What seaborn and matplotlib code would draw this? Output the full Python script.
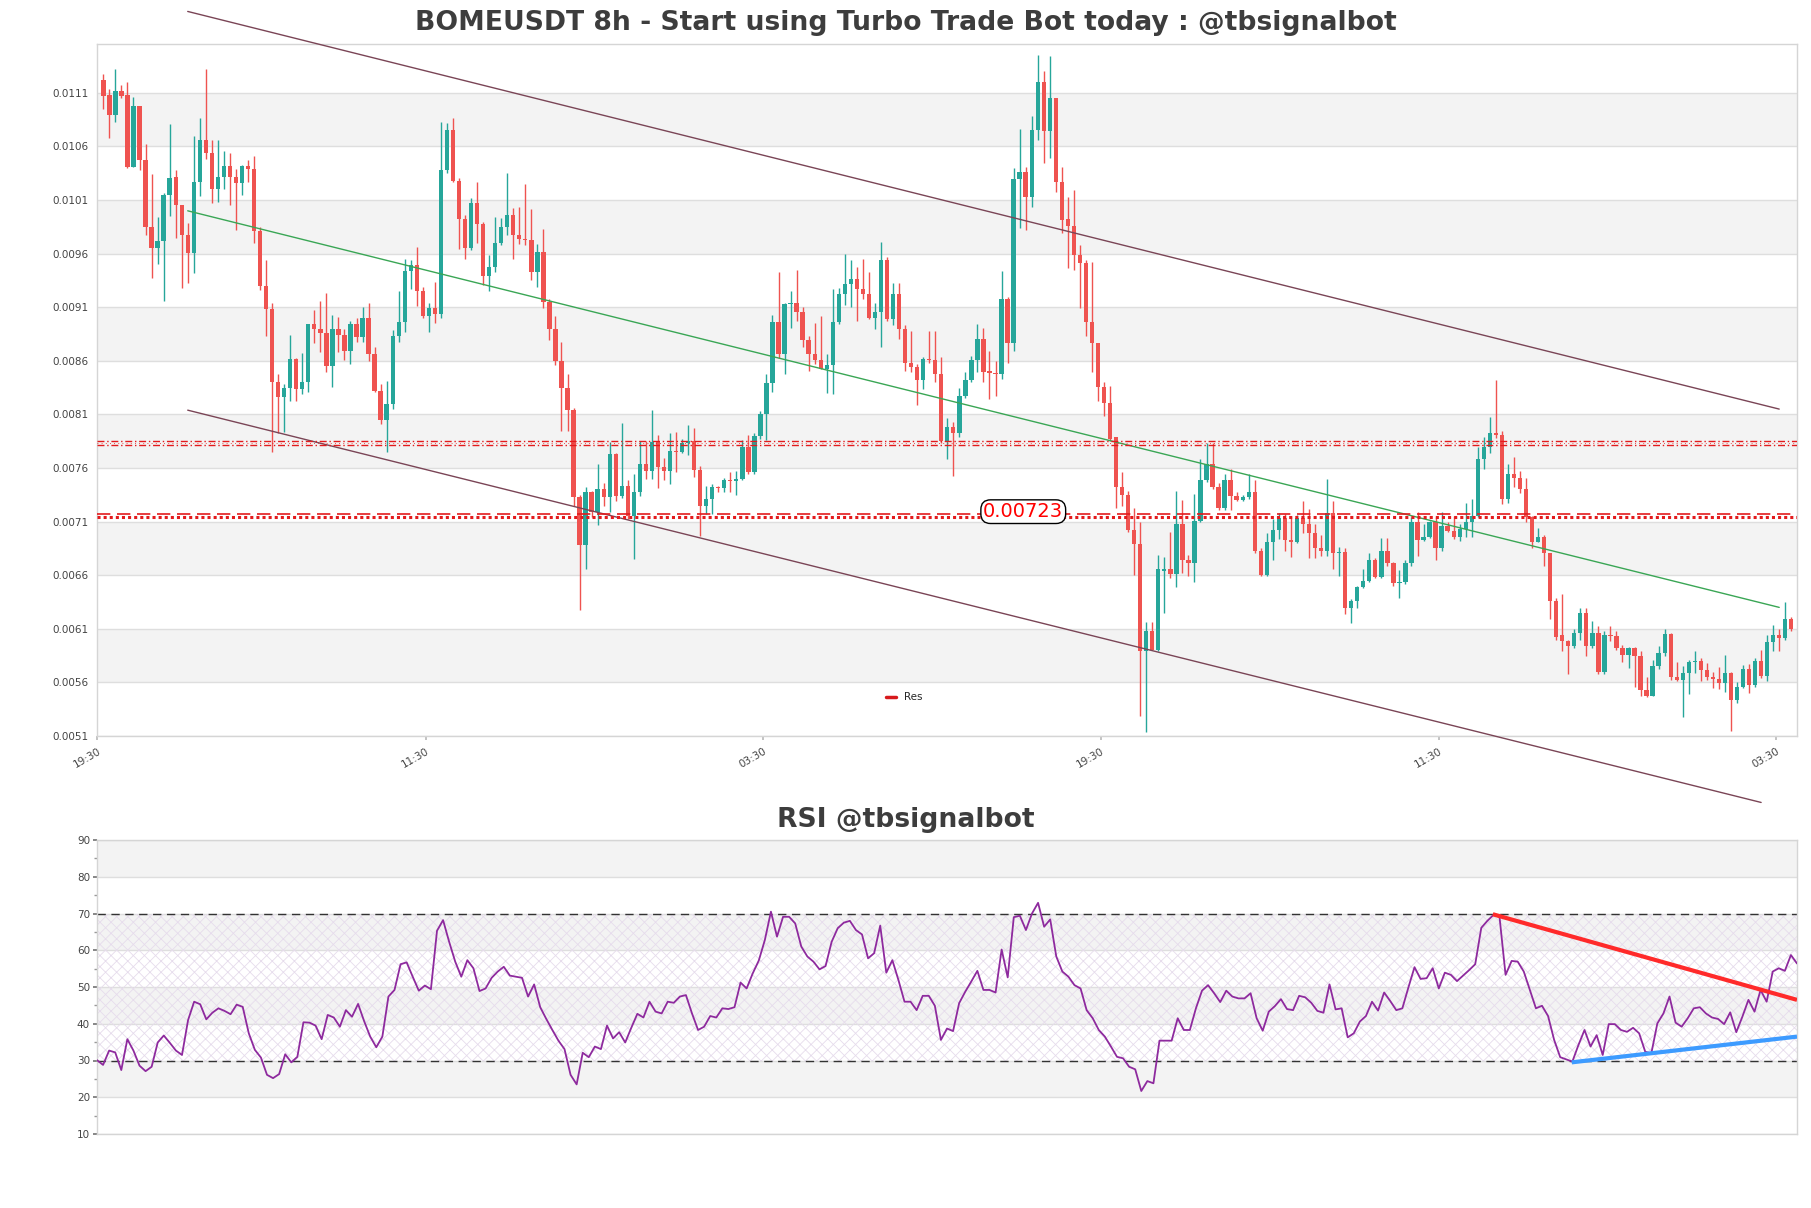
import numpy as np
import pandas as pd
import matplotlib
matplotlib.use("Agg")
import matplotlib.pyplot as plt
import seaborn as sns
from matplotlib.lines import Line2D

sns.set_theme(style="white")
plt.rcParams["font.family"] = ["DejaVu Sans"]
plt.rcParams["hatch.linewidth"] = 0.6

# ---------------- data (prices in units of 1e-4) ----------------
PRICE_UNIT = 1e-4
opens = [112.25,110.8,108.9,111.2,110.8,104.1,109.75,104.7,98.5,96.5,97.2,101.5,103.2,100.5,97.7,96.1,102.7,106.6,105.4,102.0,
         103.2,104.2,103.2,102.6,104.2,103.9,98.1,93.0,90.8,84.0,82.6,83.5,86.2,83.4,84.0,89.4,89.0,88.6,85.5,89.0,
         88.4,86.9,89.4,88.2,90.0,86.6,83.2,80.5,82.0,88.3,89.6,94.4,94.9,92.5,90.2,90.9,90.4,103.8,107.5,102.75,
         99.2,96.5,100.7,98.8,93.9,94.8,97.0,98.5,99.6,97.75,97.4,97.3,94.3,96.2,91.5,89.0,86.0,83.5,81.4,73.3,
         68.8,73.8,71.9,74.0,73.3,77.3,73.4,74.3,71.5,73.8,76.4,75.7,78.4,76.1,75.7,77.6,77.5,78.3,78.5,75.8,
         72.5,73.1,74.2,74.1,74.9,74.8,75.0,78.0,75.6,79.0,81.0,83.9,89.6,86.6,91.3,91.4,90.6,87.9,86.6,86.1,
         85.25,85.6,89.6,92.25,93.2,93.6,92.75,92.25,90.0,90.6,95.4,89.9,92.2,89.0,85.8,85.4,84.25,86.2,86.1,84.8,
         78.5,79.8,79.3,82.7,84.2,86.1,88.05,85.1,84.9,84.8,91.75,87.7,103.0,103.6,101.3,107.5,112.0,107.4,110.5,102.7,
         99.2,98.6,95.9,95.1,89.6,87.7,83.6,82.1,78.9,74.2,73.5,70.2,68.9,58.9,60.8,59.0,66.4,66.6,66.1,70.75,
         67.4,67.1,71.1,74.9,76.4,74.2,72.25,74.9,73.4,73.0,73.3,73.8,68.3,66.0,69.1,70.2,71.3,69.25,69.1,71.3,
         70.8,69.9,68.5,68.3,71.8,68.1,68.2,62.9,63.6,64.9,65.5,67.4,65.8,68.3,67.1,65.25,65.4,67.1,71.0,69.3,
         69.6,71.0,68.5,70.6,70.1,69.6,70.3,71.0,71.5,76.8,78.0,79.25,79.1,73.1,75.4,75.1,74.0,71.4,69.1,69.6,
         68.1,63.6,60.4,59.9,59.4,60.6,62.5,59.4,60.6,57.0,60.4,60.3,59.2,58.6,59.2,58.5,55.25,54.75,57.5,58.7,
         60.5,56.5,56.2,56.9,57.9,58.0,57.2,56.5,56.3,55.9,56.9,54.4,55.6,57.25,55.75,58.0,56.6,59.8,60.4,60.1,
         61.9]
highs = [112.8,111.4,113.2,111.75,112.0,110.6,109.75,106.2,103.4,99.4,101.7,108.1,103.8,100.5,98.9,107.0,108.7,113.2,106.6,106.6,
         105.6,105.4,103.9,104.3,104.75,105.1,98.5,95.4,91.4,84.8,83.8,88.4,86.3,86.7,89.4,90.7,91.6,92.3,90.3,90.1,
         89.0,89.7,90.0,91.0,91.4,87.25,83.8,84.1,88.9,92.5,95.5,95.4,96.6,92.9,91.4,93.4,108.3,108.2,108.7,103.1,
         99.6,101.2,102.7,99.0,95.9,99.4,99.3,103.5,100.25,100.4,102.5,100.2,96.9,98.3,91.8,90.2,87.75,84.8,81.6,73.5,
         74.2,73.9,76.4,74.6,78.4,77.4,80.2,74.9,75.4,78.5,78.5,81.4,79.1,76.9,79.25,79.4,78.7,80.0,79.75,76.2,
         74.3,74.5,74.3,75.1,75.6,75.75,78.6,79.1,79.3,81.3,84.75,90.3,94.25,91.4,92.5,94.5,91.0,88.3,89.5,90.2,
         86.6,92.7,92.8,96.0,95.4,94.75,95.5,94.25,91.4,97.1,95.7,93.3,93.3,89.3,88.75,85.7,86.4,88.8,88.75,86.4,
         80.7,80.25,83.5,85.0,86.5,89.4,89.1,86.9,86.0,94.4,92.0,104.0,107.6,104.1,108.8,114.5,113.0,114.4,110.5,104.1,
         101.3,101.9,96.8,95.4,95.2,87.7,84.0,83.7,78.9,75.6,73.9,72.25,71.0,61.6,61.6,67.9,67.7,70.0,73.9,73.0,
         67.9,73.6,76.8,78.3,78.3,74.6,75.4,75.9,73.8,73.5,75.4,74.9,68.5,69.9,71.2,71.8,71.75,71.5,71.6,72.9,
         72.2,70.75,69.75,75.0,72.9,68.6,68.5,63.8,65.0,66.6,68.1,67.6,69.5,69.5,67.25,66.5,67.4,71.4,71.9,70.75,
         71.1,71.4,71.9,71.0,71.5,70.8,72.7,73.1,78.0,78.9,80.8,84.2,79.5,76.4,77.0,75.75,75.1,71.5,70.4,69.75,
         68.1,63.9,64.25,60.0,61.0,62.9,62.9,61.75,61.25,60.8,61.25,60.8,59.5,59.3,59.3,58.9,56.5,58.1,59.4,61.0,
         60.6,57.9,57.5,58.1,58.9,58.3,57.8,57.0,57.4,58.6,57.0,56.0,57.6,57.75,58.25,59.0,60.4,61.4,61.0,63.5,
         62.1]
lows = [109.5,106.75,108.3,110.5,104.0,104.1,103.8,97.7,93.7,95.0,91.6,99.5,97.5,92.8,93.3,94.2,101.4,104.8,100.7,100.8,
        102.0,100.5,98.2,101.5,102.7,97.0,92.6,88.3,77.5,79.3,79.4,82.3,82.3,82.9,83.1,87.7,86.8,85.0,83.6,86.8,
        86.1,85.7,87.75,87.75,86.0,83.1,80.1,77.5,81.5,87.75,88.7,92.7,91.1,90.0,88.7,89.5,90.0,103.5,102.7,96.4,
        95.5,96.3,97.0,93.1,92.5,94.25,96.8,97.75,95.5,96.9,96.8,93.5,92.9,90.9,87.9,85.6,79.5,79.5,72.5,62.75,
        66.6,71.4,70.7,72.5,71.9,72.9,73.2,71.2,67.5,73.4,75.0,75.0,74.1,74.9,74.5,75.6,77.4,77.25,75.2,69.7,
        71.75,71.75,73.8,73.8,73.8,73.5,74.9,75.4,75.4,78.7,78.6,83.1,86.3,84.75,89.1,89.7,87.3,85.1,85.7,85.2,
        83.0,82.9,89.4,91.2,91.0,89.7,91.75,89.9,89.0,87.3,89.75,89.3,88.0,85.1,85.0,81.9,83.4,85.8,84.0,78.3,
        76.8,75.25,78.9,82.5,84.0,85.0,84.0,82.4,82.7,84.3,85.8,86.9,98.4,98.2,100.4,106.6,104.5,104.9,101.8,97.9,
        94.7,94.5,90.9,88.3,85.0,82.25,80.9,78.5,72.25,72.5,70.0,66.0,52.9,51.4,59.0,58.9,62.5,65.75,64.9,66.2,
        65.9,65.4,71.0,74.7,74.0,72.1,72.1,72.1,72.9,72.9,73.1,68.1,65.9,65.9,67.4,69.4,68.3,67.7,69.0,69.9,
        67.6,67.6,67.75,67.75,66.6,65.9,62.4,61.5,62.9,64.8,65.4,65.75,65.75,66.9,65.0,63.9,65.2,66.9,67.8,69.2,
        69.5,67.4,68.3,70.0,69.4,69.2,69.6,69.6,71.4,75.9,77.4,78.8,72.6,72.75,74.25,73.7,71.0,68.5,69.1,66.9,
        61.9,60.0,58.9,56.75,59.2,60.0,58.5,59.2,56.75,56.75,59.9,59.0,57.9,57.3,55.6,54.7,54.6,54.75,57.25,58.5,
        56.25,56.1,52.8,54.9,56.9,56.1,56.25,55.5,55.4,55.1,51.5,54.1,55.5,55.0,55.6,56.4,56.1,58.9,58.9,60.0,
        60.8]
closes = [110.7,108.9,111.2,110.7,104.1,109.75,104.7,98.5,96.5,97.2,101.5,103.1,100.5,97.7,96.1,102.7,106.6,105.4,102.0,103.2,
          104.2,103.2,102.6,104.2,103.9,98.1,93.0,90.8,84.0,82.6,83.5,86.2,83.4,84.0,89.4,89.0,88.6,85.5,89.0,88.4,
          86.9,89.4,88.2,90.0,86.6,83.2,80.5,82.0,88.3,89.6,94.4,94.9,92.5,90.2,90.9,90.4,103.8,107.5,102.75,99.2,
          96.5,100.7,98.8,93.9,94.8,97.0,98.5,99.6,97.75,97.4,97.3,94.3,96.2,91.5,89.0,86.0,83.5,81.4,73.3,68.8,
          73.8,71.9,74.0,73.3,77.3,73.4,74.3,71.5,73.8,76.4,75.7,78.4,76.1,75.7,77.6,77.5,78.3,78.5,75.8,72.5,
          73.1,74.2,74.1,74.9,74.8,75.0,78.0,75.6,79.0,81.0,83.9,89.6,86.6,91.3,91.4,90.6,87.9,86.6,86.1,85.25,
          85.6,89.6,92.25,93.2,93.6,92.75,92.25,90.0,90.6,95.4,89.9,92.2,89.0,85.8,85.4,84.25,86.2,86.1,84.8,78.5,
          79.8,79.3,82.7,84.2,86.1,88.05,85.0,84.9,84.8,91.75,87.7,103.0,103.6,101.3,107.5,112.0,107.4,110.5,102.7,99.1,
          98.6,95.9,95.1,89.6,87.7,83.6,82.1,78.7,74.2,73.5,70.2,68.9,58.9,60.8,59.0,66.6,66.6,66.1,70.75,67.4,
          67.1,71.1,74.9,76.4,74.2,72.25,74.9,73.4,73.0,73.3,73.8,68.3,66.0,69.1,70.2,71.3,69.25,69.1,71.3,70.8,
          69.9,68.5,68.3,71.8,68.1,68.2,62.9,63.6,64.9,65.5,67.4,65.8,68.3,67.1,65.25,65.4,67.1,71.0,69.3,69.6,
          71.0,68.5,70.6,70.1,69.6,70.3,71.0,71.5,76.8,78.0,79.25,79.1,73.1,75.4,75.1,74.0,71.4,69.1,69.6,68.1,
          63.6,60.25,59.9,59.4,60.6,62.5,59.4,60.6,57.0,60.4,60.3,59.2,58.6,59.2,58.5,55.25,54.75,57.5,58.7,60.5,
          56.5,56.2,56.9,57.9,58.0,57.2,56.5,56.3,55.9,56.9,54.4,55.6,57.25,55.75,58.0,56.6,59.8,60.4,60.1,61.9,
          61.0]

rsi_values = [30.1,28.8,32.7,32.2,27.4,35.8,32.7,28.6,27.1,28.3,34.9,36.8,34.8,32.7,31.5,41.0,46.0,45.3,41.2,43.0,
              44.2,43.5,42.6,45.2,44.6,37.4,32.9,30.8,26.1,25.2,26.3,31.7,29.5,31.0,40.4,40.3,39.5,35.8,42.4,41.7,
              39.2,43.7,41.9,45.4,40.7,36.5,33.6,36.5,47.4,49.2,56.2,56.7,52.8,49.0,50.4,49.4,65.3,68.2,62.3,56.9,
              52.8,57.3,55.1,48.9,49.6,52.5,54.2,55.5,53.1,52.8,52.5,47.4,50.7,44.5,41.3,38.3,35.4,33.1,26.1,23.5,
              32.1,30.9,33.8,33.1,39.5,36.0,37.7,34.9,38.9,42.7,41.7,46.0,43.3,42.8,46.0,45.7,47.4,47.8,42.8,38.3,
              39.2,42.1,41.7,44.2,44.0,44.5,51.2,49.6,53.7,57.2,62.8,70.5,63.7,69.1,69.1,67.3,61.0,58.3,56.9,54.8,
              55.7,62.3,66.0,67.5,68.0,65.5,64.3,57.8,59.2,66.7,53.9,57.3,51.9,46.0,46.0,43.7,47.6,47.6,44.9,35.6,
              38.7,38.0,45.6,48.7,51.5,54.4,49.2,49.2,48.5,60.2,52.6,69.0,69.4,65.5,70.0,72.9,66.4,68.4,58.3,54.2,
              52.8,50.5,49.6,43.7,41.5,38.3,36.5,33.8,31.0,30.6,28.3,27.6,21.7,24.4,23.8,35.4,35.4,35.4,41.5,38.3,
              38.3,44.2,49.0,50.5,48.3,45.9,49.0,47.4,46.9,46.9,48.3,41.5,38.1,43.3,44.8,46.7,44.0,43.7,47.6,47.2,
              45.7,43.5,43.0,50.7,43.9,44.2,36.3,37.4,40.6,42.1,46.0,43.6,48.5,46.2,43.7,44.2,49.9,55.4,52.2,52.4,
              55.1,49.6,53.9,53.3,51.6,53.1,54.6,56.2,66.1,68.0,69.6,69.1,53.3,57.1,56.9,54.2,49.2,44.2,44.9,42.1,
              35.6,30.9,30.3,29.7,34.2,38.3,33.8,36.9,31.5,39.9,39.9,38.3,37.8,38.9,37.4,32.4,31.9,40.1,42.8,47.4,
              40.3,39.2,41.5,44.2,44.5,42.8,41.7,41.3,39.9,43.1,37.7,41.9,46.5,43.3,49.2,46.0,54.2,55.1,54.4,58.7,
              56.4]

x_tick_labels = ["19:30", "11:30", "03:30", "19:30", "11:30", "03:30"]
x_tick_positions = [-1.0, 53.5, 109.5, 165.5, 221.5, 277.5]
price_ticks = [51, 56, 61, 66, 71, 76, 81, 86, 91, 96, 101, 106, 111]

# channel (candle index, price units)
upper_line = ([14, 278], [118.6, 81.5])
lower_line = ([14, 275], [81.4, 44.8])
mid_line = ([14, 278], [100.0, 63.0])

res_upper = [78.5, 78.15]
res_lower_dash = 71.75
res_lower_dot = 71.45
annot_text = "0.00723"
annot_pos = (152.6, 71.93)

rsi_levels = [70, 30]
rsi_red_trend = ([229.9, 280], [69.8, 46.5])
rsi_blue_trend = ([242.9, 280], [29.5, 36.5])

# ---------------- figure ----------------
W, H = 1811, 1208
fig = plt.figure(figsize=(W / 100, H / 100), dpi=100)
ax = fig.add_axes([97 / W, 1 - 736 / H, 1700 / W, (736 - 43.6) / H])
ax2 = fig.add_axes([97 / W, 1 - 1134 / H, 1700 / W, (1134 - 840) / H])

GREEN = "#26a69a"
RED = "#ef5350"
BAND = "#f3f3f3"
GRID = "#dedede"
TXT = "#444444"

df = pd.DataFrame({"o": opens, "h": highs, "l": lows, "c": closes}) * PRICE_UNIT
df["idx"] = np.arange(len(df))
df["up"] = df["c"] >= df["o"]

# bands
for k in range(0, len(price_ticks) - 1):
    if k % 2 == 1:
        ax.axhspan(price_ticks[k] * PRICE_UNIT, price_ticks[k + 1] * PRICE_UNIT, color=BAND, zorder=0, lw=0)
for t in price_ticks:
    ax.axhline(t * PRICE_UNIT, color=GRID, lw=1, zorder=0.5)

# candles
colors = np.where(df["up"], GREEN, RED)
ax.vlines(df["idx"], df["l"], df["h"], colors=colors, lw=1, zorder=2)
body_bottom = np.minimum(df["o"], df["c"])
body_h = np.maximum(np.abs(df["c"] - df["o"]), 0.00000025)
ax.bar(df["idx"], body_h, bottom=body_bottom, width=0.72, color=colors, lw=0, zorder=3)

# channel + mid
chan_col = "#7a4556"
ax.plot(upper_line[0], np.array(upper_line[1]) * PRICE_UNIT, color=chan_col, lw=1, clip_on=False, zorder=4)
ax.plot(lower_line[0], np.array(lower_line[1]) * PRICE_UNIT, color=chan_col, lw=1, clip_on=False, zorder=4)
sns.lineplot(x=mid_line[0], y=np.array(mid_line[1]) * PRICE_UNIT, ax=ax, color="#3aa655", lw=1, zorder=4)

# resistance lines
ax.axhline(res_upper[0] * PRICE_UNIT, color="#e31a1c", lw=1, ls=(0, (5, 2, 1, 2)), zorder=5)
ax.axhline(res_upper[1] * PRICE_UNIT, color="#e31a1c", lw=1, ls=(0, (5, 2, 1, 2)), zorder=5)
ax.axhline(np.mean(res_upper) * PRICE_UNIT, color="#e31a1c", lw=0.6, ls=(0, (1, 4)), zorder=5)
ax.axhline(res_lower_dash * PRICE_UNIT, color="#e31a1c", lw=1.2, ls=(0, (8, 4)), zorder=5)
ax.axhline(res_lower_dot * PRICE_UNIT, color="#e31a1c", lw=2.2, ls=(0, (1, 1)), zorder=5)

ax.text(annot_pos[0], annot_pos[1] * PRICE_UNIT, annot_text, color="red", fontsize=14,
        ha="center", va="center", zorder=6,
        bbox=dict(boxstyle="round,pad=0.12,rounding_size=0.5", fc="white", ec="black", lw=1))

leg = ax.legend([Line2D([0], [0], color="#d7191c", lw=2.5)], ["Res"], loc="lower center",
                bbox_to_anchor=(0.475, 0.035), frameon=False, fontsize=7.5, handlelength=0.9,
                handletextpad=0.8)

ax.set_xlim(-1.05, 280.95)
ax.set_ylim(51 * PRICE_UNIT, 115.6 * PRICE_UNIT)
ax.set_yticks([t * PRICE_UNIT for t in price_ticks])
ax.set_yticklabels([f"{t * PRICE_UNIT:.4f}" for t in price_ticks])
ax.set_xticks(x_tick_positions)
ax.set_xticklabels(x_tick_labels, rotation=30, ha="right", rotation_mode="anchor")
ax.tick_params(axis="y", length=0, labelsize=7.5, labelcolor=TXT, pad=6)
ax.tick_params(axis="x", length=3, color="#bbbbbb", labelsize=7.5, labelcolor=TXT, pad=4, bottom=True)
for s in ax.spines.values():
    s.set_color("#d5d5d5")
    s.set_linewidth(1)
ax.set_xlabel("")
ax.set_ylabel("")

# ---------------- RSI ----------------
rsi_x = np.arange(len(rsi_values))
for lo, hi in [(80, 90), (60, 70), (40, 50), (20, 30)]:
    ax2.axhspan(lo, hi, color=BAND, lw=0, zorder=0)
for t in range(10, 91, 10):
    ax2.axhline(t, color=GRID, lw=1, zorder=0.5)
ax2.fill_between([0, len(rsi_values) - 1], 30, 70, facecolor="none", edgecolor="#e6dcec",
                 hatch="xxx", lw=0, zorder=0.7)
for lv in rsi_levels:
    ax2.axhline(lv, color="#333333", lw=1, ls=(0, (6, 4)), zorder=2)
sns.lineplot(x=rsi_x, y=rsi_values, ax=ax2, color="#8e2a9e", lw=1.3, zorder=3)
ax2.plot(rsi_red_trend[0], rsi_red_trend[1], color="#ff2a2a", lw=3, zorder=4, solid_capstyle="butt")
ax2.plot(rsi_blue_trend[0], rsi_blue_trend[1], color="#3d9bff", lw=3, zorder=4, solid_capstyle="butt")
ax2.set_xlim(0, len(rsi_values) - 1)
ax2.set_ylim(10, 90)
ax2.set_yticks(range(10, 91, 10))
ax2.set_yticks(range(15, 90, 10), minor=True)
ax2.set_xticks([])
ax2.tick_params(axis="y", which="major", length=3, color="#777777", labelsize=7.5, labelcolor=TXT, left=True, pad=2)
ax2.tick_params(axis="y", which="minor", length=2, color="#999999", left=True)
for s in ax2.spines.values():
    s.set_color("#d5d5d5")
    s.set_linewidth(1)
ax2.set_xlabel("")
ax2.set_ylabel("")

fig.text(0.5, 1 - 23 / H, "BOMEUSDT 8h - Start using Turbo Trade Bot today : @tbsignalbot",
         ha="center", va="center", fontsize=19.2, fontweight="bold", color="#3d3d3d")
fig.text(0.5, 1 - 820 / H, "RSI @tbsignalbot", ha="center", va="center", fontsize=19.2,
         fontweight="bold", color="#3d3d3d")

fig.savefig("out.png", dpi=100, facecolor="white")
